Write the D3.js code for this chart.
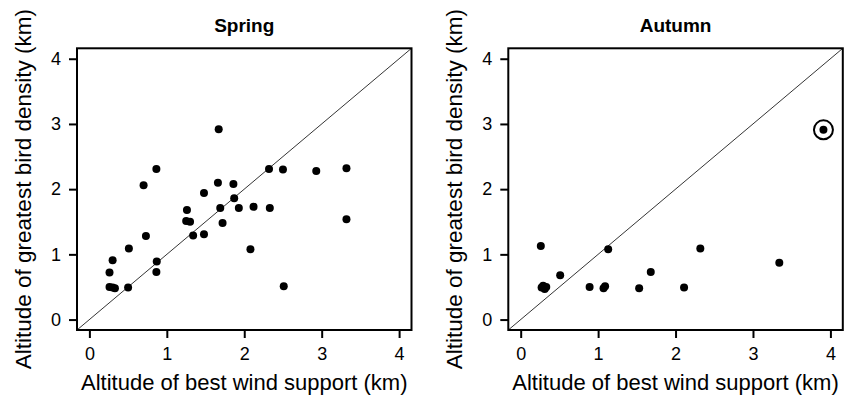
<!DOCTYPE html>
<html>
<head>
<meta charset="utf-8">
<script src="https://cdn.jsdelivr.net/npm/d3@7"></script>
<style>
  body { margin: 0; background: #fff; }
  svg { display: block; font-family: "Liberation Sans", Arial, sans-serif; }
</style>
</head>
<body>
<script>
// spring: altitude of best wind support (x) vs greatest bird density (y), km
const springX = [1.67, 0.865, 0.70, 2.32, 2.50, 2.93, 3.32, 1.66, 1.86, 1.48, 1.87, 1.26,
  1.69, 1.93, 2.12, 2.33, 1.25, 1.30, 1.72, 3.32, 0.73, 1.34, 1.48, 0.51, 2.08, 0.30,
  0.87, 0.26, 0.865, 0.26, 0.30, 0.33, 0.50, 2.51];
const springY = [2.92, 2.31, 2.06, 2.31, 2.30, 2.28, 2.32, 2.10, 2.08, 1.94, 1.86, 1.68,
  1.71, 1.71, 1.73, 1.71, 1.51, 1.50, 1.48, 1.54, 1.28, 1.29, 1.31, 1.09, 1.08, 0.91,
  0.89, 0.72, 0.73, 0.50, 0.49, 0.48, 0.49, 0.51];

const autumnX = [3.91, 0.26, 1.13, 2.32, 3.34, 1.68, 0.51, 0.89, 1.09, 1.07, 1.53, 2.11,
  0.27, 0.29, 0.31, 0.33];
const autumnY = [2.91, 1.13, 1.08, 1.09, 0.87, 0.73, 0.68, 0.50, 0.51, 0.48, 0.48, 0.49,
  0.49, 0.52, 0.47, 0.50];
const autumnCircled = [3.91, 2.91];

const ticks = [0, 1, 2, 3, 4];
const titles = ["Spring", "Autumn"];
const xTitle = "Altitude of best wind support (km)";
const yTitle = "Altitude of greatest bird density (km)";

const W = 844, H = 398;
const svg = d3.select("body").append("svg").attr("width", W).attr("height", H);

const boxW = 334.5, boxTop = 48.3, boxBottom = 330;
const panels = [
  { left: 77, title: titles[0], xs: springX, ys: springY, ring: null },
  { left: 508.3, title: titles[1], xs: autumnX, ys: autumnY, ring: autumnCircled }
];

panels.forEach((p, i) => {
  const x = d3.scaleLinear().domain([-0.16, 4.16]).range([p.left, p.left + boxW]);
  const y = d3.scaleLinear().domain([-0.16, 4.16]).range([boxBottom, boxTop]);
  const g = svg.append("g");

  const clipId = "clip" + i;
  g.append("clipPath").attr("id", clipId)
    .append("rect")
    .attr("x", p.left).attr("y", boxTop)
    .attr("width", boxW).attr("height", boxBottom - boxTop);

  // 1:1 line
  g.append("line")
    .attr("clip-path", `url(#${clipId})`)
    .attr("x1", x(-0.16)).attr("y1", y(-0.16))
    .attr("x2", x(4.16)).attr("y2", y(4.16))
    .attr("stroke", "#000").attr("stroke-width", 0.8);

  const pts = p.xs.map((v, k) => [v, p.ys[k]]);
  g.selectAll("circle.pt").data(pts).enter().append("circle")
    .attr("class", "pt")
    .attr("cx", (d) => x(d[0]))
    .attr("cy", (d) => y(d[1]))
    .attr("r", 4)
    .attr("fill", "#000");

  if (p.ring) {
    g.append("circle")
      .attr("cx", x(p.ring[0])).attr("cy", y(p.ring[1]))
      .attr("r", 9.5)
      .attr("fill", "none").attr("stroke", "#000").attr("stroke-width", 2);
  }

  // box
  g.append("rect")
    .attr("x", p.left).attr("y", boxTop)
    .attr("width", boxW).attr("height", boxBottom - boxTop)
    .attr("fill", "none").attr("stroke", "#000").attr("stroke-width", 2);

  const xAxis = g.append("g")
    .attr("transform", `translate(0,${boxBottom})`)
    .call(d3.axisBottom(x).tickValues(ticks).tickSize(8).tickPadding(9).tickFormat(d3.format("d")));
  const yAxis = g.append("g")
    .attr("transform", `translate(${p.left},0)`)
    .call(d3.axisLeft(y).tickValues(ticks).tickSize(8).tickPadding(8).tickFormat(d3.format("d")));

  [xAxis, yAxis].forEach((a) => {
    a.attr("font-size", 18).attr("font-family", "Liberation Sans, Arial, sans-serif");
    a.select(".domain").remove();
    a.selectAll(".tick line").attr("stroke-width", 2);
    a.selectAll(".tick text").attr("fill", "#000");
  });

  g.append("text")
    .attr("x", p.left + boxW / 2).attr("y", 31.5)
    .attr("text-anchor", "middle")
    .attr("font-size", 19).attr("font-weight", "bold")
    .text(p.title);

  g.append("text")
    .attr("x", p.left + boxW / 2).attr("y", 390)
    .attr("text-anchor", "middle")
    .attr("font-size", 22)
    .text(xTitle);

  g.append("text")
    .attr("transform", `translate(${p.left - 46},${(boxTop + boxBottom) / 2}) rotate(-90)`)
    .attr("text-anchor", "middle")
    .attr("font-size", 22.5)
    .text(yTitle);
});
</script>
</body>
</html>
